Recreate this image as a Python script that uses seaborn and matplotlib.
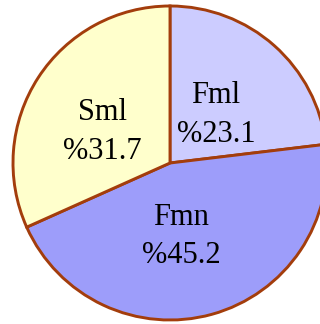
import matplotlib
matplotlib.use("Agg")
import matplotlib.pyplot as plt
import seaborn as sns

sns.set_style("white")
plt.rcParams["font.family"] = ["Liberation Serif", "DejaVu Serif"]

categories = ["Fml", "Fmn", "Sml"]
shares = [23.1, 45.2, 31.7]
colors = ["#ccccff", "#9d9dfa", "#ffffcc"]

fig = plt.figure(figsize=(3.2, 3.24), dpi=100)
ax = fig.add_axes([0, 0, 1, 1])

labels = [f"{c}\n%{v}" for c, v in zip(categories, shares)]
wedges, texts = ax.pie(
    shares,
    labels=labels,
    colors=colors,
    startangle=90,
    counterclock=False,
    labeldistance=0.45,
    wedgeprops=dict(edgecolor="#a33d0c", linewidth=2.1),
    textprops=dict(fontsize=22, linespacing=1.42, color="black"),
)

# label anchor points inside each wedge (pie radius = 1)
label_xy = [(0.293, 0.305), (0.07, -0.468), (-0.433, 0.197)]
for t, xy in zip(texts, label_xy):
    t.set_horizontalalignment("center")
    t.set_verticalalignment("center")
    t.set_position(xy)

r = 157.0
ax.set_xlim(-170 / r, (320 - 170) / r)
ax.set_ylim(-(324 - 163) / r, 163 / r)
ax.set_aspect("auto")
ax.axis("off")

fig.savefig("out.png", dpi=100)
